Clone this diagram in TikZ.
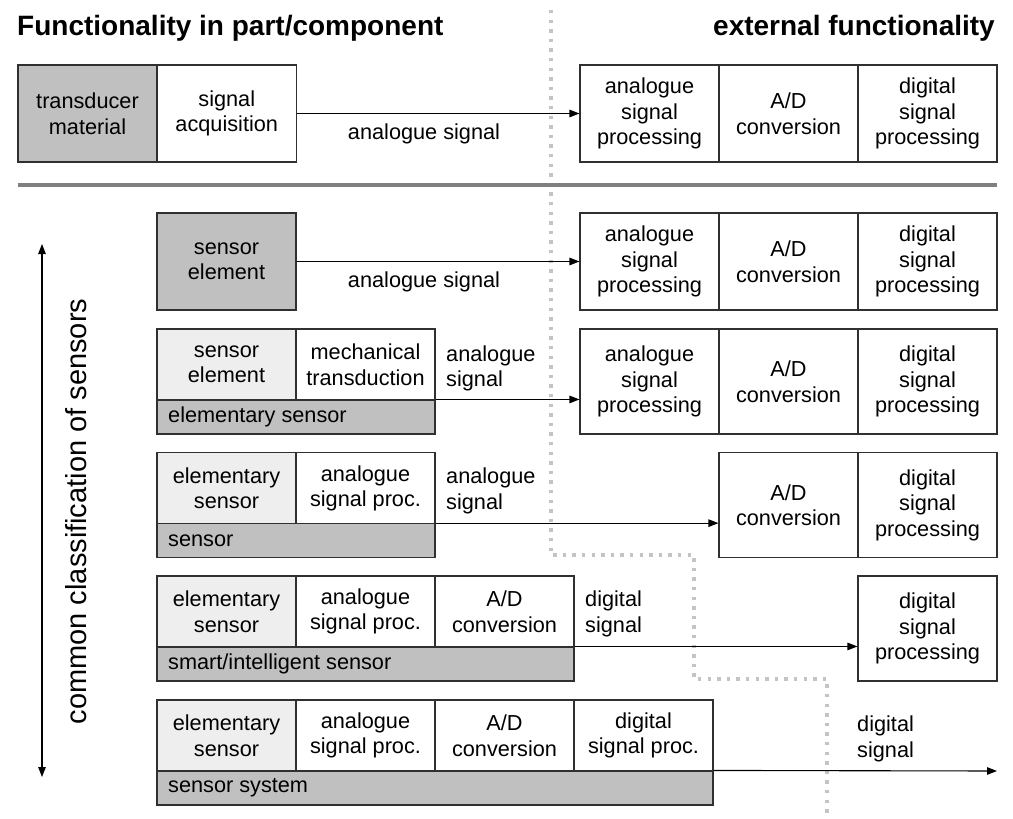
\documentclass[tikz,border=0pt]{standalone}
\usepackage{fontspec}
\setmainfont{Liberation Sans}
\usetikzlibrary{arrows.meta}
\definecolor{dgray}{HTML}{C0C0C0}
\definecolor{lgray}{HTML}{EEEEEE}
\definecolor{sepgray}{HTML}{808080}
\definecolor{dotgray}{HTML}{C4C4C4}
\definecolor{edge}{HTML}{303030}
\begin{document}
\begin{tikzpicture}[x=1pt,y=-1pt,
  cell/.style={draw=edge, line width=1.1pt, inner sep=0pt, align=center,
    font=\fontsize{21.7}{25.5}\selectfont, text=black},
  dcell/.style={cell, fill=dgray},
  lcell/.style={cell, fill=lgray},
  wcell/.style={cell, fill=white},
  barlabel/.style={anchor=west, inner sep=0pt, font=\fontsize{21.7}{25.5}\selectfont},
  siglabel/.style={inner sep=0pt, font=\fontsize{21.7}{25.5}\selectfont},
  sigarrow/.style={line width=1.1pt, -{Triangle[length=10pt,width=7.5pt]}},
  title/.style={inner sep=0pt, font=\fontsize{28}{32}\selectfont\bfseries},
  dotline/.style={dotgray, line width=3.3pt, dash pattern=on 3.3pt off 6.3pt}
]
\useasboundingbox (0,0) rectangle (1013,819);

% dotted boundary
\coordinate (d0) at (551,10);
\coordinate (d1) at (551,555);
\coordinate (d2) at (694,555);
\coordinate (d3) at (694,679);
\coordinate (d4) at (827,679);
\coordinate (d5) at (827,816);
\draw[dotline] (d0) -- (d1) -- (d2) -- (d3) -- (d4) -- (d5);

% titles
\node[title, anchor=base west] (tl) at (17,35) {Functionality in part/component};
\node[title, anchor=base east] (tr) at (995,35) {external functionality};

% separator
\coordinate (s0) at (18,184.5);
\coordinate (s1) at (997,184.5);
\draw[sepgray, line width=4pt] (s0) -- (s1);

% Row 0
\node[dcell, minimum width=139pt, minimum height=97pt] (r0a) at (87.5,113.5) {transducer\\material};
\node[wcell, minimum width=139.5pt, minimum height=97pt] (r0b) at (226.75,113.5) {signal\\acquisition};
\node[wcell, minimum width=139pt, minimum height=97pt] (e0a) at (649.5,113.5) {analogue\\signal\\processing};
\node[wcell, minimum width=139pt, minimum height=97pt] (e0b) at (788.5,113.5) {A/D\\conversion};
\node[wcell, minimum width=139pt, minimum height=97pt] (e0c) at (927.5,113.5) {digital\\signal\\processing};
\draw[sigarrow] (r0b.east) -- (e0a.west);
\node[siglabel] (l0) at (424,134) {analogue signal};

% Row 1
\node[dcell, minimum width=139pt, minimum height=97pt] (r1a) at (226.5,261.5) {sensor\\element};
\node[wcell, minimum width=139pt, minimum height=97pt] (e1a) at (649.5,261.5) {analogue\\signal\\processing};
\node[wcell, minimum width=139pt, minimum height=97pt] (e1b) at (788.5,261.5) {A/D\\conversion};
\node[wcell, minimum width=139pt, minimum height=97pt] (e1c) at (927.5,261.5) {digital\\signal\\processing};
\draw[sigarrow] (r1a.east) -- (e1a.west);
\node[siglabel] (l1) at (424,282) {analogue signal};

% Row 2
\node[lcell, minimum width=139pt, minimum height=71pt] (r2a) at (226.5,364.5) {sensor\\element};
\node[wcell, minimum width=139pt, minimum height=71pt] (r2b) at (365.5,364.5) {mechanical\\transduction};
\node[dcell, minimum width=278pt, minimum height=34pt] (r2bar) at (296,417) {};
\node[barlabel] (r2t) at (168,417) {elementary sensor};
\node[wcell, minimum width=139pt, minimum height=105pt] (e2a) at (649.5,381.5) {analogue\\signal\\processing};
\node[wcell, minimum width=139pt, minimum height=105pt] (e2b) at (788.5,381.5) {A/D\\conversion};
\node[wcell, minimum width=139pt, minimum height=105pt] (e2c) at (927.5,381.5) {digital\\signal\\processing};
\draw[sigarrow] (r2bar.north east) -- (r2bar.north east -| e2a.west);
\node[siglabel, anchor=west, align=left] (l2) at (446,368.5) {analogue\\signal};

% Row 3
\node[lcell, minimum width=139pt, minimum height=71pt] (r3a) at (226.5,488.2) {elementary\\sensor};
\node[wcell, minimum width=139pt, minimum height=71pt] (r3b) at (365.5,488.2) {analogue\\signal proc.};
\node[dcell, minimum width=278pt, minimum height=34pt] (r3bar) at (296,540.7) {};
\node[barlabel] (r3t) at (168,540.7) {sensor};
\node[wcell, minimum width=139pt, minimum height=105pt] (e3b) at (788.5,505.2) {A/D\\conversion};
\node[wcell, minimum width=139pt, minimum height=105pt] (e3c) at (927.5,505.2) {digital\\signal\\processing};
\draw[sigarrow] (r3bar.north east) -- (r3bar.north east -| e3b.west);
\node[siglabel, anchor=west, align=left] (l3) at (446,491) {analogue\\signal};

% Row 4
\node[lcell, minimum width=139pt, minimum height=71pt] (r4a) at (226.5,611.5) {elementary\\sensor};
\node[wcell, minimum width=139pt, minimum height=71pt] (r4b) at (365.5,611.5) {analogue\\signal proc.};
\node[wcell, minimum width=139pt, minimum height=71pt] (r4c) at (504.5,611.5) {A/D\\conversion};
\node[dcell, minimum width=417pt, minimum height=34pt] (r4bar) at (365.5,664) {};
\node[barlabel] (r4t) at (168,664) {smart/intelligent sensor};
\node[wcell, minimum width=139pt, minimum height=105pt] (e4c) at (927.5,628.5) {digital\\signal\\processing};
\draw[sigarrow] (r4bar.north east) -- (r4bar.north east -| e4c.west);
\node[siglabel, anchor=west, align=left] (l4) at (585,614) {digital\\signal};

% Row 5
\node[lcell, minimum width=139pt, minimum height=71pt] (r5a) at (226.5,735.5) {elementary\\sensor};
\node[wcell, minimum width=139pt, minimum height=71pt] (r5b) at (365.5,735.5) {analogue\\signal proc.};
\node[wcell, minimum width=139pt, minimum height=71pt] (r5c) at (504.5,735.5) {A/D\\conversion};
\node[wcell, minimum width=139pt, minimum height=71pt] (r5d) at (643.5,735.5) {digital\\signal proc.};
\node[dcell, minimum width=556pt, minimum height=34pt] (r5bar) at (435,788) {};
\node[barlabel] (r5t) at (168,788) {sensor system};
\coordinate (out5) at (997,771);
\draw[sigarrow] (r5bar.north east) -- (out5);
\node[siglabel, anchor=west, align=left] (l5) at (857,739) {digital\\signal};

% vertical classification arrow
\coordinate (va) at (42,244);
\coordinate (vb) at (42,777);
\draw[line width=1.1pt, {Triangle[length=10pt,width=7.5pt]}-{Triangle[length=10pt,width=7.5pt]}] (va) -- (vb);
\node[rotate=90, anchor=base, inner sep=0pt, font=\fontsize{29}{33}\selectfont] (vl) at (86,511.5) {common classification of sensors};
\end{tikzpicture}
\end{document}
